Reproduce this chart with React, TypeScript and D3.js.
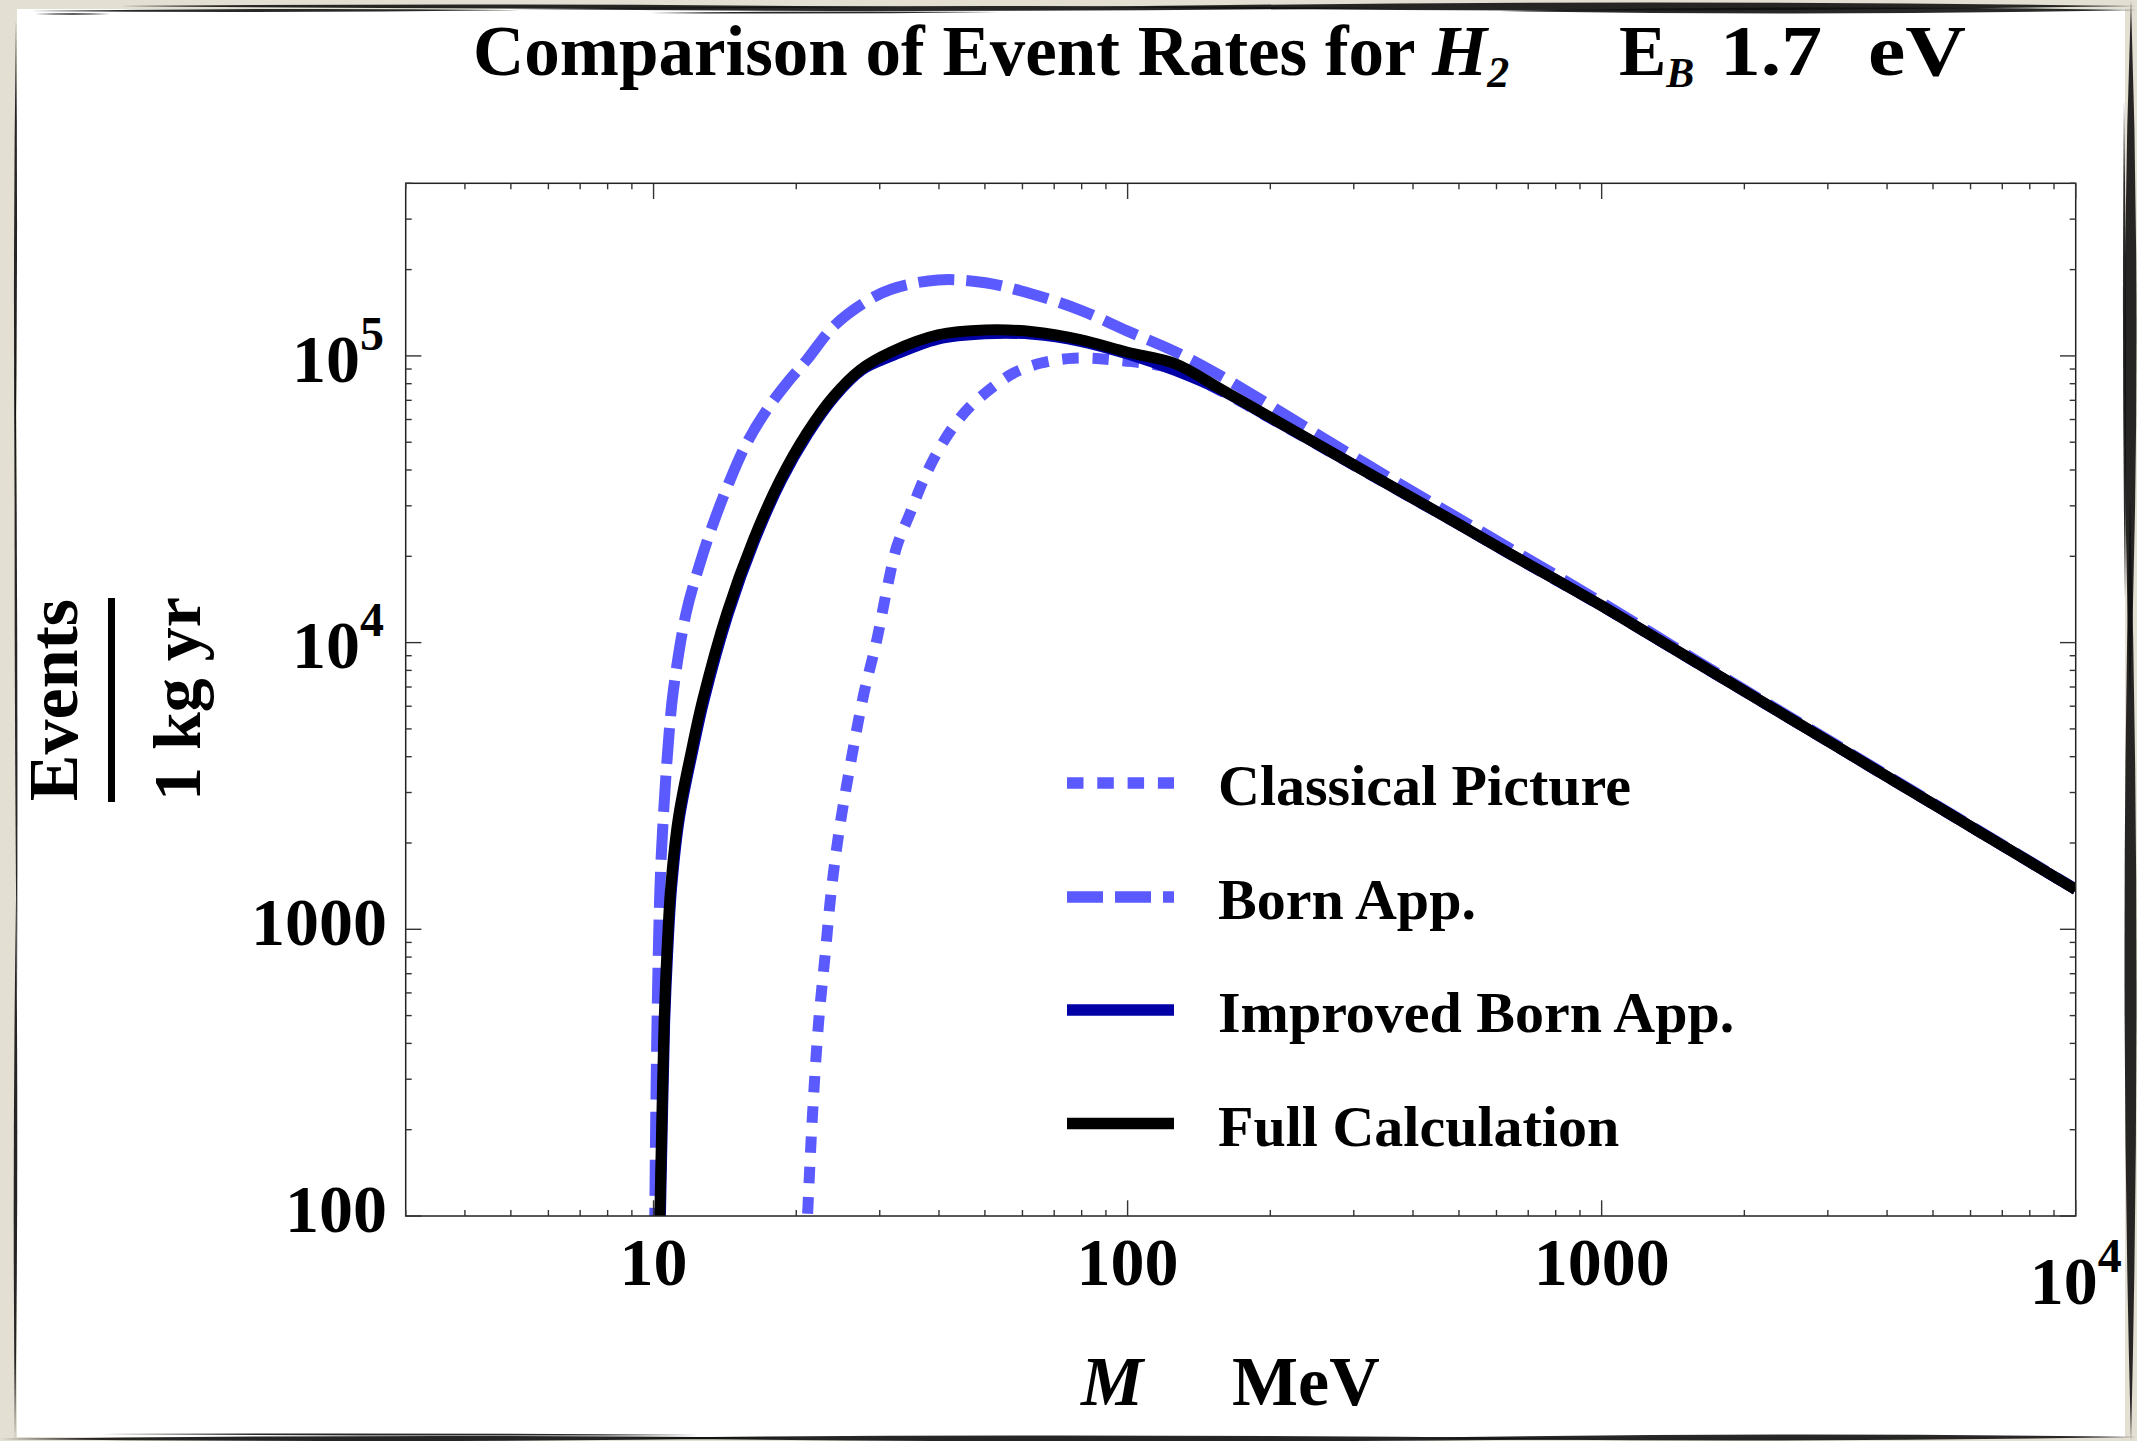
import React from "react";
import * as d3 from "d3";

// ---- data: event rate per kg-year vs dark-matter mass M (MeV) ----
const classicalM = [21.0, 21.56, 22.27, 23.0, 23.76, 24.74, 25.97, 27.7, 29.57, 31.04, 32.58, 34.76, 37.1, 39.57, 42.89, 46.5, 52.1, 57.4, 65.35, 76.85, 93.3, 125.9, 158.5, 199.5, 251.2, 316.2, 398.1, 501.2, 631.0, 794.3, 1000, 1259, 1585, 1995, 2512, 3162, 3981, 5012, 6310, 7943, 10000];
const classicalRate = [80, 202, 464, 807, 1406, 2315, 3705, 6500, 10200, 15260, 21600, 28250, 36900, 45750, 56620, 66500, 78100, 87000, 94250, 98100, 96800, 90000, 75000, 60800, 49100, 39550, 31900, 25750, 20650, 16650, 13420, 10690, 8510, 6780, 5400, 4300, 3420, 2727, 2171, 1729, 1376];

const bornM = [10.05, 10.12, 10.23, 10.35, 10.57, 10.79, 11.01, 11.71, 12.53, 13.37, 14.5, 15.72, 17.33, 19.1, 21.04, 23.94, 27.7, 31.62, 39.81, 50.12, 63.1, 79.43, 100, 125.9, 158.5, 199.5, 251.2, 316.2, 398.1, 501.2, 631.0, 794.3, 1000, 1259, 1585, 1995, 2512, 3162, 3981, 5012, 6310, 7943, 10000];
const bornRate = [80, 267, 807, 1614, 3054, 4890, 6820, 12650, 18900, 26100, 36900, 49600, 64800, 80260, 96800, 126500, 152600, 170500, 184000, 180000, 164000, 144500, 122000, 103500, 84500, 67300, 53200, 42300, 33700, 27000, 21600, 17300, 13790, 10930, 8650, 6860, 5460, 4350, 3455, 2750, 2185, 1738, 1382];

const improvedM = [10.31, 10.43, 10.55, 10.7, 10.92, 11.34, 12.12, 12.78, 14.38, 16.35, 18.62, 21.2, 24.1, 27.5, 31.62, 39.81, 50.12, 63.1, 79.43, 100, 125.9, 158.5, 199.5, 251.2, 316.2, 398.1, 501.2, 631.0, 794.3, 1000, 1259, 1585, 1995, 2512, 3162, 3981, 5012, 6310, 7943, 10000];
const improvedRate = [80, 202, 464, 807, 1406, 2447, 4255, 6305, 12650, 22800, 36900, 53700, 72100, 89300, 99500, 114500, 119500, 119000, 112500, 101500, 89000, 75500, 61000, 49200, 39650, 31950, 25780, 20680, 16690, 13440, 10700, 8520, 6785, 5402, 4303, 3424, 2729, 2172, 1729, 1376];

const fullM = [10.28, 10.4, 10.52, 10.66, 10.87, 11.28, 12.04, 12.69, 14.27, 16.23, 18.49, 21.04, 23.94, 27.26, 31.62, 39.81, 50.12, 63.1, 79.43, 100, 125.9, 158.5, 199.5, 251.2, 316.2, 398.1, 501.2, 631.0, 794.3, 1000, 1259, 1585, 1995, 2512, 3162, 3981, 5012, 6310, 7943, 10000];
const fullRate = [80, 202, 464, 807, 1406, 2447, 4255, 6305, 12650, 22800, 36900, 53700, 72100, 89300, 103000, 118300, 123100, 121500, 114000, 103000, 94000, 76000, 61200, 49300, 39700, 32000, 25800, 20700, 16700, 13450, 10710, 8525, 6790, 5405, 4305, 3425, 2730, 2173, 1730, 1377];

const seriesNames = ["Classical Picture", "Born App.", "Improved Born App.", "Full Calculation"];

const xMajorTicks = [10, 100, 1000, 10000];
const xTickLabels = ["10", "100", "1000", "10^4"];
const yMajorTicks = [100, 1000, 10000, 100000];
const yTickLabels = ["100", "1000", "10^4", "10^5"];

// ---- layout ----
const W = 2137;
const H = 1441;
const PL = 405.7, PR = 2075.7, PT = 183.3, PB = 1216;
const FONT = "'Liberation Serif', 'Times New Roman', Times, serif";
const LIGHT = "#5a5aff";
const DARK = "#0000a6";

const x = d3.scaleLog().domain([3, 10000]).range([PL, PR]);
const y = d3.scaleLog().domain([100, 400000]).range([PB, PT]);

const line = d3
  .line<[number, number]>()
  .x((d) => x(d[0]))
  .y((d) => y(d[1]))
  .curve(d3.curveCatmullRom.alpha(0.5));

const zip = (a: number[], b: number[]) => a.map((v, i) => [v, b[i]] as [number, number]);

const styles = [
  { color: LIGHT, dash: "16.5 13.8" },
  { color: LIGHT, dash: "36 12" },
  { color: DARK, dash: undefined },
  { color: "#000", dash: undefined },
];
const seriesData = [
  zip(classicalM, classicalRate),
  zip(bornM, bornRate),
  zip(improvedM, improvedRate),
  zip(fullM, fullRate),
];

// minor ticks for each decade
function minorTicks(lo: number, hi: number) {
  const out: number[] = [];
  for (let e = Math.floor(Math.log10(lo)); e <= Math.ceil(Math.log10(hi)); e++) {
    for (let k = 2; k <= 9; k++) {
      const v = k * Math.pow(10, e);
      if (v >= lo && v <= hi) out.push(v);
    }
  }
  return out;
}

// tapered brush stroke for the page edge
function brush(x1: number, y1: number, x2: number, y2: number, w: number) {
  const mx = (x1 + x2) / 2, my = (y1 + y2) / 2;
  const L = Math.hypot(x2 - x1, y2 - y1);
  const nx = (-(y2 - y1) / L) * w, ny = ((x2 - x1) / L) * w;
  return `M${x1},${y1} Q${mx + nx},${my + ny} ${x2},${y2} Q${mx - nx},${my - ny} ${x1},${y1}Z`;
}
const edgeStrokes: [number, number, number, number, number][] = [
  [30, 11, 520, 10, 3], [120, 6, 900, 7, 4], [500, 9, 1400, 8, 5], [1100, 7, 2137, 6, 8],
  [1500, 11, 2137, 10, 6], [35, 14, 110, 14, 1.5], [650, 13, 1000, 12, 2],
  [16, 20, 15, 500, 3], [15, 300, 17, 1000, 2.5], [16, 900, 15, 1441, 3.5],
  [2131, 0, 2130, 700, 12], [2130, 500, 2131, 1441, 12], [2124, 100, 2125, 600, 3],
  [0, 1439, 800, 1438, 5], [600, 1438, 1600, 1439, 6], [1400, 1438, 2137, 1437, 6], [100, 1434, 700, 1435, 2],
];

function PowLabel({ base, exp, xPos, yBase, anchor }: { base: string; exp: string; xPos: number; yBase: number; anchor: "middle" | "end" }) {
  return (
    <text x={xPos} y={yBase} textAnchor={anchor} fontFamily={FONT} fontWeight="bold" fontSize={68}>
      {base}
      <tspan fontSize={48} dy={-32}>{exp}</tspan>
    </text>
  );
}

export default function App() {
  React.useEffect(() => {
    document.body.style.margin = "0";
    document.body.style.overflow = "hidden";
  }, []);

  const xMinor = minorTicks(3, 10000).filter((v) => !xMajorTicks.includes(v));
  const yMinor = minorTicks(100, 400000).filter((v) => !yMajorTicks.includes(v));
  const tickColor = "#333";
  const majorLen = 15.7, minorLen = 6;

  const legendY = [783, 897, 1010, 1123.5];

  return (
    <svg width={W} height={H} style={{ position: "absolute", left: 0, top: 0 }} xmlns="http://www.w3.org/2000/svg">
      <defs>
        <clipPath id="plotClip">
          <rect x={PL} y={PT} width={PR - PL} height={PB - PT} />
        </clipPath>
      </defs>

      {/* page */}
      <rect x={0} y={0} width={W} height={H} fill="#e4dfd3" />
      <rect x={17} y={9} width={2108} height={1428} fill="#fff" />
      {edgeStrokes.map((s, i) => (
        <path key={i} d={brush(...s)} fill="#111" opacity={0.9} />
      ))}

      {/* title */}
      <text x={473} y={75} fontFamily={FONT} fontWeight="bold" fontSize={71}>
        Comparison of Event Rates for <tspan fontStyle="italic">H</tspan>
        <tspan fontStyle="italic" fontSize={44} dy={12}>2</tspan>
      </text>
      <text x={1619} y={75} fontFamily={FONT} fontWeight="bold" fontSize={71}>
        E<tspan fontStyle="italic" fontSize={42} dy={12}>B</tspan>
      </text>
      <text x={1720} y={75} fontFamily={FONT} fontWeight="bold" fontSize={71} textLength={102} lengthAdjust="spacingAndGlyphs">
        1.7
      </text>
      <text x={1868} y={75} fontFamily={FONT} fontWeight="bold" fontSize={71} textLength={98} lengthAdjust="spacingAndGlyphs">
        eV
      </text>

      {/* curves */}
      <g clipPath="url(#plotClip)">
        {seriesData.map((d, i) => (
          <path
            key={i}
            d={line(d) ?? ""}
            fill="none"
            stroke={styles[i].color}
            strokeWidth={11}
            strokeDasharray={styles[i].dash}
            strokeLinejoin="round"
          />
        ))}
      </g>

      {/* frame */}
      <rect x={PL} y={PT} width={PR - PL} height={PB - PT} fill="none" stroke="#222" strokeWidth={1.5} />

      {/* ticks on all four sides */}
      <g stroke={tickColor} strokeWidth={1.4}>
        {xMajorTicks.map((v) => (
          <g key={"xM" + v}>
            <line x1={x(v)} x2={x(v)} y1={PB} y2={PB - majorLen} />
            <line x1={x(v)} x2={x(v)} y1={PT} y2={PT + majorLen} />
          </g>
        ))}
        {xMinor.map((v) => (
          <g key={"xm" + v}>
            <line x1={x(v)} x2={x(v)} y1={PB} y2={PB - minorLen} />
            <line x1={x(v)} x2={x(v)} y1={PT} y2={PT + minorLen} />
          </g>
        ))}
        {yMajorTicks.map((v) => (
          <g key={"yM" + v}>
            <line y1={y(v)} y2={y(v)} x1={PL} x2={PL + majorLen} />
            <line y1={y(v)} y2={y(v)} x1={PR} x2={PR - majorLen} />
          </g>
        ))}
        {yMinor.map((v) => (
          <g key={"ym" + v}>
            <line y1={y(v)} y2={y(v)} x1={PL} x2={PL + minorLen} />
            <line y1={y(v)} y2={y(v)} x1={PR} x2={PR - minorLen} />
          </g>
        ))}
      </g>

      {/* x tick labels */}
      {xMajorTicks.map((v, i) => {
        const lab = xTickLabels[i];
        if (lab.includes("^")) {
          const [b, e] = lab.split("^");
          return <PowLabel key={v} base={b} exp={e} xPos={x(v)} yBase={1304} anchor="middle" />;
        }
        return (
          <text key={v} x={x(v)} y={1285} textAnchor="middle" fontFamily={FONT} fontWeight="bold" fontSize={68}>
            {lab}
          </text>
        );
      })}

      {/* y tick labels */}
      {yMajorTicks.map((v, i) => {
        const lab = yTickLabels[i];
        if (lab.includes("^")) {
          const [b, e] = lab.split("^");
          return <PowLabel key={v} base={b} exp={e} xPos={384} yBase={y(v) + 25.6} anchor="end" />;
        }
        return (
          <text key={v} x={387} y={y(v) + 16} textAnchor="end" fontFamily={FONT} fontWeight="bold" fontSize={68}>
            {lab}
          </text>
        );
      })}

      {/* axis titles */}
      <text x={1081} y={1405} fontFamily={FONT} fontWeight="bold" fontStyle="italic" fontSize={70}>M</text>
      <text x={1232} y={1405} fontFamily={FONT} fontWeight="bold" fontSize={70}>MeV</text>

      <text transform="translate(77,700) rotate(-90)" textAnchor="middle" fontFamily={FONT} fontWeight="bold" fontSize={70}>
        Events
      </text>
      <rect x={108} y={598} width={7} height={204} fill="#000" />
      <text transform="translate(200,699) rotate(-90)" textAnchor="middle" fontFamily={FONT} fontWeight="bold" fontSize={68}>
        1 kg yr
      </text>

      {/* legend */}
      {seriesNames.map((name, i) => (
        <g key={name}>
          <line
            x1={1067}
            x2={1174}
            y1={legendY[i]}
            y2={legendY[i]}
            stroke={styles[i].color}
            strokeWidth={11.5}
            strokeDasharray={styles[i].dash}
          />
          <text x={1218} y={legendY[i] + 22} fontFamily={FONT} fontWeight="bold" fontSize={58}>
            {name}
          </text>
        </g>
      ))}
    </svg>
  );
}
